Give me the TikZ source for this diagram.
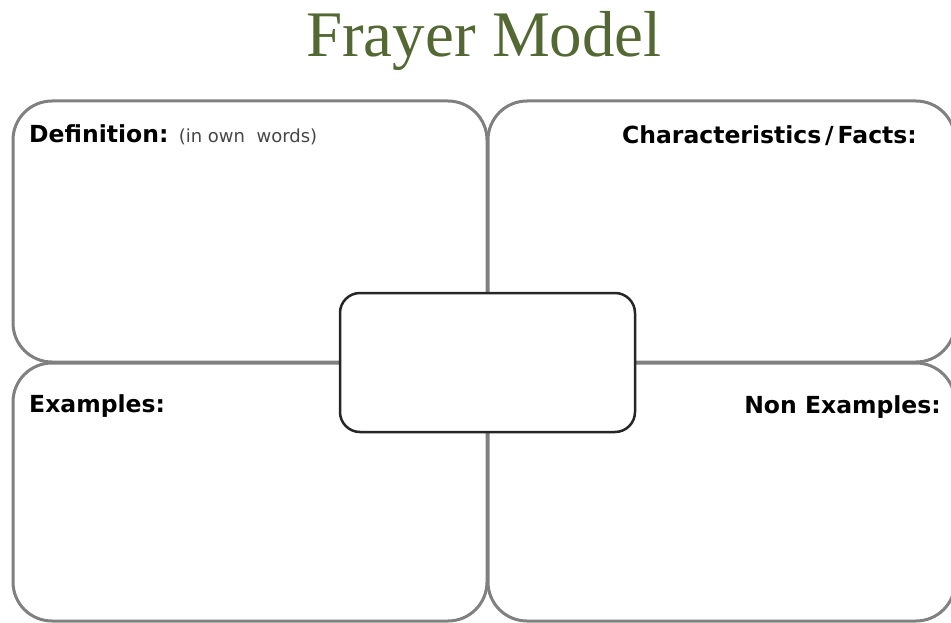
\documentclass[tikz,border=0pt]{standalone}
\usepackage{fontspec}
\usepackage{tikz}
\setsansfont{DejaVu Sans}
\newfontfamily\titlefont{Liberation Serif}
\definecolor{titlegreen}{RGB}{84,104,52}
\definecolor{framegrey}{RGB}{128,128,128}
\definecolor{notegrey}{RGB}{70,70,70}
\tikzset{
  quadbox/.style={draw=framegrey, line width=3pt, rounded corners=39pt,
    inner sep=0pt, fill=none},
  centrebox/.style={draw=black!85, line width=2.5pt, rounded corners=20pt,
    minimum width=295pt, minimum height=139pt, inner sep=0pt, fill=white},
  headtext/.style={font=\sffamily\bfseries\fontsize{23.5}{28}\selectfont,
    inner sep=0pt},
  notetext/.style={font=\sffamily\fontsize{18}{22}\selectfont, text=notegrey,
    inner sep=0pt}
}

\begin{document}
\begin{tikzpicture}[x=1pt, y=-1pt]
  \useasboundingbox (0,0) rectangle (951,623);
  \clip (0,0) rectangle (951,623);

  \node[font=\titlefont\fontsize{65}{72}\selectfont, text=titlegreen,
    anchor=base] (title) at (484,57) {Frayer Model};

  % four quadrants
  \foreach \name/\cx/\cy/\w/\h in {
    defbox/250/231.5/474/261,
    factbox/721.5/231.5/467/261,
    exbox/250/492/474/258,
    nonexbox/721.5/492/467/258
  }{
    \node[quadbox, minimum width=\w pt, minimum height=\h pt]
      (\name) at (\cx,\cy) {};
  }

  \node[centrebox] (word) at (487.5,362.5) {};

  \node[headtext, anchor=base west] (deflabel) at (29,142.5) {Definition:};
  \node[notetext, anchor=base west] (defnote)
    at ([xshift=10pt]deflabel.base east) {(in own\ \ words)};
  \node[headtext, anchor=base east] (factlabel) at (917,144)
    {Characteristics\,/\,Facts:};
  \node[headtext, anchor=base west] (exlabel) at (29,412) {Examples:};
  \node[headtext, anchor=base east] (nonexlabel) at (941,413)
    {Non Examples:};
\end{tikzpicture}
\end{document}
